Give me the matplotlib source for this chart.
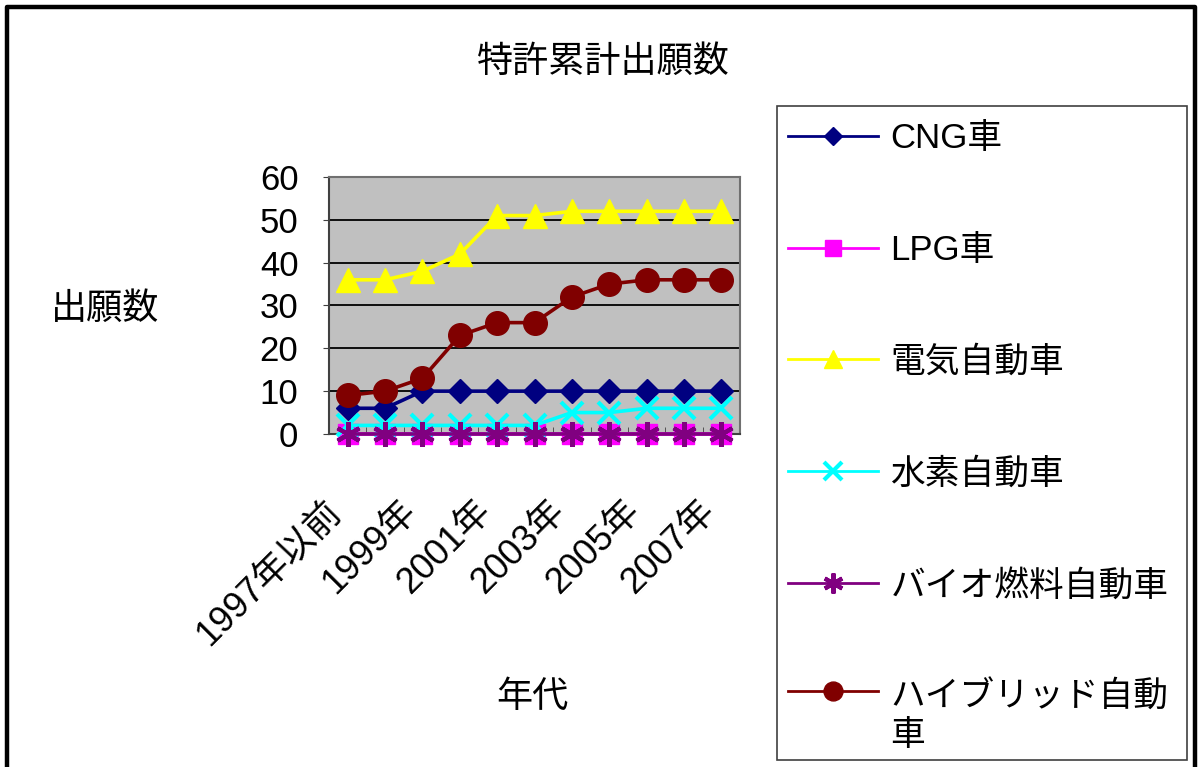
import matplotlib
matplotlib.use("Agg")
import matplotlib.pyplot as plt
import matplotlib.transforms as mtransforms
from matplotlib.patches import Rectangle
from matplotlib.lines import Line2D
from matplotlib.legend_handler import HandlerLine2D

plt.rcParams['font.family'] = ['Liberation Sans', 'Noto Sans CJK JP']

# 年代（カテゴリ）
years = ['1997年以前', '1998年', '1999年', '2000年', '2001年', '2002年',
         '2003年', '2004年', '2005年', '2006年', '2007年']

# 特許累計出願数
cng = [6, 6, 10, 10, 10, 10, 10, 10, 10, 10, 10]
lpg = [0, 0, 0, 0, 0, 0, 0, 0, 0, 0, 0]
electric = [36, 36, 38, 42, 51, 51, 52, 52, 52, 52, 52]
hydrogen = [2, 2, 2, 2, 2, 2, 5, 5, 6, 6, 6]
biofuel = [0, 0, 0, 0, 0, 0, 0, 0, 0, 0, 0]
hybrid = [9, 10, 13, 23, 26, 26, 32, 35, 36, 36, 36]

series = [
    ('CNG車', cng, '#000080', 'D', 12, 1),
    ('LPG車', lpg, '#FF00FF', 's', 14, 1),
    ('電気自動車', electric, '#FFFF00', '^', 17, 1),
    ('水素自動車', hydrogen, '#00FFFF', 'x', 16, 3),
    ('バイオ燃料自動車', biofuel, '#800080', (6, 2, 0), 18, 3),
    ('ハイブリッド自動\n車', hybrid, '#800000', 'o', 17, 1),
]


class RaisedHandler(HandlerLine2D):
    # 2行ラベルのとき、線と記号を1行目の高さに合わせる
    def __init__(self, dy, **kw):
        super().__init__(**kw)
        self.dy = dy

    def create_artists(self, legend, orig_handle, xdescent, ydescent,
                       width, height, fontsize, trans):
        return super().create_artists(legend, orig_handle, xdescent,
                                      ydescent - 2 * self.dy, width, height,
                                      fontsize, trans)


fig = plt.figure(figsize=(12, 7.67), dpi=100)
ax = fig.add_axes([0.2742, 0.4342, 0.3425, 0.3350])
ax.set_facecolor('#C0C0C0')

x = list(range(len(years)))
handles = []
for name, vals, color, marker, ms, mew in series:
    ax.plot(x, vals, color=color, lw=2.6, marker=marker, markersize=ms,
            markerfacecolor=color, markeredgecolor=color, markeredgewidth=mew,
            label=name, zorder=3, clip_on=False)
    handles.append(Line2D([], [], color=color, lw=2, marker=marker,
                          markersize=ms * 0.8, markerfacecolor=color,
                          markeredgecolor=color, markeredgewidth=mew))

ax.set_xlim(-0.5, len(years) - 0.5)
ax.set_ylim(0, 60)
ax.set_yticks(range(0, 61, 10))
ax.yaxis.grid(True, color='black', lw=1.3, zorder=1)
ax.set_axisbelow(True)
for sp in ax.spines.values():
    sp.set_color('#707070')
    sp.set_linewidth(1.5)
ax.spines['left'].set_color('#404040')
ax.spines['bottom'].set_color('#404040')

ax.tick_params(axis='y', labelsize=25, length=4, pad=18, color='#404040')
ax.set_xticks(x)
ax.set_xticklabels([y if i % 2 == 0 else '' for i, y in enumerate(years)],
                   fontsize=26, rotation=45, ha='right', va='center',
                   rotation_mode='anchor')
ax.set_xticks([i + 0.5 for i in range(len(years) - 1)], minor=True)
ax.tick_params(axis='x', which='major', length=0, pad=52)
ax.tick_params(axis='x', which='minor', length=5, direction='in', color='#404040')
shift = mtransforms.ScaledTranslation(-12 / 100, 0, fig.dpi_scale_trans)
for lab in ax.get_xticklabels():
    lab.set_transform(lab.get_transform() + shift)

fig.text(0.503, 0.918, '特許累計出願数', fontsize=26, ha='center', va='center')
fig.text(0.0875, 0.596, '出願数', fontsize=26, ha='center', va='center')
fig.text(0.444, 0.091, '年代', fontsize=26, ha='center', va='center')

# 凡例
fig.legend(handles, [s[0] for s in series], loc='upper left',
           bbox_to_anchor=(788 / 1200, 1 - 122 / 767), frameon=False,
           fontsize=25, handlelength=2.6, handletextpad=0.35,
           labelspacing=2.27, borderpad=0, borderaxespad=0,
           handler_map={handles[-1]: RaisedHandler(dy=19)})
fig.patches.append(Rectangle((777 / 1200, 1 - 760 / 767), 410 / 1200, 654 / 767,
                             transform=fig.transFigure, fill=False,
                             edgecolor='#404040', lw=1.2))

# 外枠
fig.lines.append(Line2D([7 / 1200, 7 / 1200, 1195 / 1200, 1195 / 1200],
                        [-0.01, 1 - 7 / 767, 1 - 7 / 767, -0.01],
                        transform=fig.transFigure, color='black', lw=3.2))

fig.savefig('out.png', dpi=100)
